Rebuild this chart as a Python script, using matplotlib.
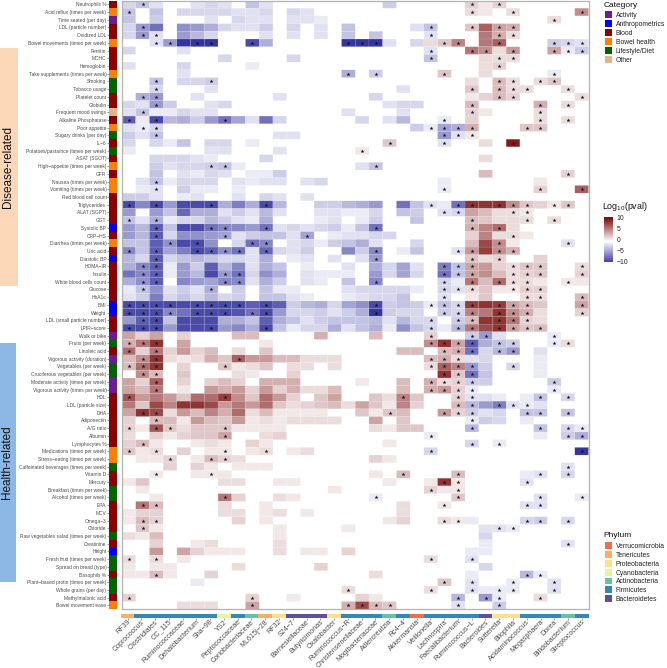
import numpy as np
import matplotlib
matplotlib.use("Agg")
import matplotlib.pyplot as plt
from matplotlib.colors import LinearSegmentedColormap, ListedColormap, Normalize
from matplotlib.transforms import ScaledTranslation

plt.rcParams['font.family'] = ['Liberation Sans', 'DejaVu Sans']
plt.rcParams['mathtext.fontset'] = 'custom'
plt.rcParams['mathtext.rm'] = 'Liberation Sans'

#################################################

taxa = ["RF39", "Coprococcus", "Clostridiales", "CC_115", "Ruminococcaceae", "Dehalobacterium", "Sha\u221298", "YS2",
        "Peptococcaceae", "Coriobacteriaceae", "ML615j\u221228", "RF32", "S24\u22127", "Barnesiellaceae", "Butyricimonas",
        "Oxalobacter", "Ruminococcus\u2212R", "Christensenellaceae", "Mogibacteriaceae", "Adlercreutzia", "Rc4\u22124",
        "Akkermansia", "Veillonella", "Lachnospira", "Faecalibacterium", "Ruminococcus\u2212L", "Bacteroides", "Sutterella",
        "Bilophila", "Acidaminococcus", "Megasphaera", "Dorea", "Bifidobacterium", "Streptococcus"]

phylum_names = ["Verrucomicrobia", "Tenericutes", "Proteobacteria", "Cyanobacteria", "Actinobacteria", "Firmicutes", "Bacteroidetes"]
phylum_colors = ["#f46d43", "#fdae61", "#fee08b", "#e6f598", "#66c2a5", "#3288bd", "#5e4fa2"]
taxa_phylum = [1, 5, 5, 5, 5, 5, 5, 3, 5, 4, 1, 2, 6, 6, 6, 2, 5, 5, 5, 4, 5, 0, 5, 5, 5, 5, 6, 2, 2, 5, 5, 5, 4, 5]

category_names = ["Activity", "Anthropometrics", "Blood", "Bowel health", "Lifestyle/Diet", "Other"]
category_colors = ["#6a1b9a", "#0000ff", "#8b0000", "#ff7f00", "#006400", "#deb887"]

measures = ["Neutrophils %", "Acid reflux (times per week)", "Time seated (per day)", "LDL (particle number)", "Oxidized LDL",
            "Bowel movements (times per week)", "Ferritin", "MCHC", "Hemoglobin", "Take supplements (times per week)",
            "Smoking", "Tobacco usage", "Platelet count", "Globulin", "Frequent mood swings", "Alkaline Phosphatase",
            "Poor appetite", "Sugary drinks (per day)", "IL\u22126", "Potatoes/pasta/rice (times per week)", "ASAT (SGOT)",
            "High\u2212appetite (times per week)", "GFR", "Nausea (times per week)", "Vomiting (times per week)",
            "Red blood cell count", "Triglycerides", "ALAT (SGPT)", "GGT", "Systolic BP", "CRP\u2212HS",
            "Diarrhea (times per week)", "Uric acid", "Diastolic BP", "HOMA\u2212IR", "Insulin", "White blood cells count",
            "Glucose", "HbA1c", "BMI", "Weight", "LDL (small particle number)", "LPIR\u2212score", "Walk or bike",
            "Fruits (per week)", "Linoleic acid", "Vigorous activity (duration)", "Vegetables (per week)",
            "Cruciferous vegetables (per week)", "Moderate activity (times per week)", "Vigorous activity (times per week)",
            "HDL", "LDL (particle size)", "DHA", "Adiponectin", "A/G ratio", "Albumin", "Lymphocytes %",
            "Medications (times per week)", "Stress\u2212eating (times per week)", "Caffeinated beverages (times per week)",
            "Vitamin D", "Mercury", "Breakfast (times per week)", "Alcohol (times per week)", "EPA", "MCV", "Omega\u22123",
            "Chloride", "Raw vegetables salad (times per week)", "Creatinine", "Height", "Fresh fruit (times per week)",
            "Spread on bread (type)", "Basophils %", "Plant\u2212based protin (times per week)", "Whole grains (per day)",
            "Methylmalonic acid", "Bowel movement ease"]

measure_category = [2, 3, 0, 2, 2, 3, 2, 2, 2, 3, 4, 4, 2, 2, 5, 2, 3, 4, 2, 4, 2, 3, 2, 3, 3, 2, 2, 2, 2, 1, 2, 3, 2, 1,
                    2, 2, 2, 2, 2, 1, 1, 2, 2, 0, 4, 2, 0, 4, 4, 0, 0, 2, 2, 2, 2, 2, 2, 2, 3, 3, 4, 2, 2, 4, 4, 2, 2, 2,
                    2, 4, 2, 1, 4, 4, 2, 4, 4, 2, 3]

# one dict per row, taxon index -> log10(pval)
log_pvals = [
    {0:-2, 1:-3, 2:-1.5, 5:-1.5, 6:-2, 7:-1.5, 9:-3, 10:-1.5, 19:-2.5, 25:2, 26:1, 27:2},
    {0:-3, 2:-3, 4:-2, 5:-2, 6:-2, 7:-2, 8:-1.5, 9:-1.5, 10:-2, 12:-2, 13:-1.5, 25:1.5, 26:1, 28:1.5, 33:5},
    {0:-3, 2:-2.5, 6:-1.5, 8:-2, 9:-1.5, 10:-1.5, 12:-1.5, 13:-1.5, 14:-1, 31:1.5},
    {0:-2, 1:-5, 2:-7, 4:-5.5, 5:-5, 6:-4, 7:-2, 8:-1.5, 9:-1.5, 10:-2.5, 12:-2, 14:-1.5, 16:-3, 21:-1.5, 22:-3, 25:2.5, 26:7, 27:4, 28:3.5},
    {0:-2, 1:-5, 2:-1.5, 4:-5, 5:-3.5, 6:-2, 10:-1.5, 12:-1.5, 14:-1.5, 16:-3, 18:-3, 22:-1.5, 26:6, 27:3.5, 28:1.5},
    {2:-1.5, 3:-5, 4:-10, 5:-10, 6:-10, 9:-9, 10:-4, 16:-10, 17:-10, 18:-10, 19:-1.5, 21:-2, 22:1.5, 23:2.5, 24:5.5, 26:6, 27:7, 31:-2.5, 32:-2, 33:-1.5},
    {0:-2, 4:-1.5, 22:-1.5, 25:6, 26:5, 27:1.5, 28:4.5, 31:4, 32:-1, 33:-2.5},
    {7:-2, 12:-2, 22:-3, 26:1.5, 27:1.5, 28:1.5},
    {0:-1.5, 4:-2, 9:-1, 26:1.5, 27:2},
    {4:-1.5, 16:-4, 18:-2.5, 23:2.5, 26:1.5, 31:-1},
    {2:-3, 4:-2, 5:-2, 6:-2.5, 25:1.5, 27:3, 28:1.5, 30:1.5, 31:2.5},
    {2:-2, 6:-1.5, 20:-1.5, 25:2.5, 27:3, 28:1.5, 29:1.5, 32:1.5},
    {1:-4, 2:-5, 5:-1.5, 11:-1.5, 18:-2, 25:1, 26:2, 27:3, 28:2, 33:1.5},
    {0:-2, 1:-1.5, 2:-5, 3:-2.5, 6:-1.5, 7:-2, 19:-1.5, 20:-2, 21:-2, 25:3, 30:3.5, 32:1.5},
    {0:-1.5, 1:-3, 2:-1, 3:-1, 4:-2, 5:-1.5, 6:-1.5, 16:-1.5, 20:-1.5, 25:2, 26:1, 30:1.5},
    {0:-8, 1:-1, 2:-9, 3:-3.5, 4:-4, 5:-2.5, 6:-5, 7:-7, 8:-4.5, 9:-1.5, 10:-7, 11:-2, 17:-2, 19:-1.5, 20:-3.5, 23:-1, 25:2, 30:1.5, 32:1.5},
    {0:-1.5, 1:-1, 2:-2, 21:-2.5, 22:-1, 23:-4.5, 24:-4, 25:3.5, 29:2.5, 30:2.5},
    {0:-2.5, 1:-1.5, 2:-3, 11:-1.5, 12:-1.5, 23:-5, 24:-1.5, 25:1},
    {0:-2, 2:-2, 3:-1, 4:-3, 6:-2, 7:-2, 9:-1, 19:2.5, 23:-1.5, 26:1.5, 28:10},
    {0:-1, 6:-1.5, 7:-1.5, 11:-1.5, 17:1},
    {2:-2, 3:-2, 4:-2, 5:-1.5, 6:-1, 10:-2, 26:1.5},
    {2:-2.5, 3:-1.5, 4:-2, 5:-2, 6:-2.5, 7:-3, 8:-1, 17:-1.5, 18:-3},
    {2:-3, 4:-1.5, 5:-1, 6:-2, 7:-1.5, 9:-1, 10:-1, 11:-2.5, 26:3, 32:2},
    {1:-1.5, 2:-3, 3:-1, 4:-2, 5:-2, 6:-2, 8:-1.5, 9:-1, 10:-1.5, 11:-1.5, 13:-1.5, 14:-2, 23:-1, 30:1},
    {1:-1, 2:-1.5, 4:-2.5, 5:-1, 6:-1, 8:-1, 23:-1, 30:2, 33:7},
    {0:-2.5, 1:-2.5, 2:-1.5, 4:-1, 5:-1.5, 8:-1.5, 10:-2, 11:-1.5, 13:-1.5},
    {0:-9, 1:-6, 2:-9, 3:-5, 4:-9, 5:-9, 6:-9, 7:-4, 8:-6.5, 9:-4, 10:-9, 11:-3.5, 14:-2.5, 15:-2.5, 16:-3.5, 17:-4, 18:-5, 20:-7, 21:-3, 22:-1.5, 23:-1, 24:-7, 25:9, 26:9, 27:9, 28:5, 29:2.5, 30:2, 31:1, 32:2.5},
    {0:-5, 2:-5, 3:-3, 4:-7.5, 5:-4, 6:-4, 7:-1.5, 8:-2.5, 9:-1.5, 10:-3.5, 11:-1.5, 14:-1.5, 15:-1.5, 16:-1, 17:-1, 18:-2, 20:-3, 21:-2.5, 23:-1.5, 24:-2, 25:4, 26:3, 27:1.5, 28:1.5, 29:1},
    {0:-3, 1:-1.5, 2:-4, 3:-1, 4:-2, 5:-2, 6:-3.5, 7:-2.5, 8:-1.5, 9:-1, 10:-4, 14:-1, 15:-1.5, 17:-1, 18:-2.5, 21:-3, 25:3, 26:2.5, 27:1.5, 28:1.5, 29:1.5, 31:1.5},
    {0:-5, 1:-3.5, 2:-8, 3:-3, 4:-9, 5:-9, 6:-7, 7:-6, 8:-6, 9:-5, 10:-7, 11:-1.5, 12:-2, 13:-1.5, 14:-2, 15:-2.5, 16:-1, 17:-3, 18:-7, 25:3.5, 26:5.5, 27:6.5, 28:1.5},
    {0:-5, 1:-3.5, 2:-8, 3:-2, 4:-5.5, 5:-5.5, 6:-5, 7:-4.5, 8:-1.5, 9:-2.5, 10:-3, 11:-3, 12:-1.5, 13:-4.5, 15:-1, 16:-1.5, 17:-1.5, 18:-2, 19:-2, 25:2, 26:5.5, 27:1.5, 28:1.5, 29:1},
    {0:-3, 1:-3, 2:-8, 3:-5.5, 4:-9, 5:-9, 6:-5.5, 8:-2, 9:-7, 10:-6, 12:-1.5, 13:-2, 14:-1, 15:-2.5, 16:-3, 17:-4, 18:-1.5, 21:-2, 25:3, 26:8, 27:5, 28:1, 32:-1.5},
    {0:-6, 1:-3, 2:-8, 3:-4.5, 4:-6.5, 5:-9, 6:-8, 7:-5.5, 8:-7, 9:-1.5, 10:-7.5, 11:-2, 12:-1.5, 13:-2.5, 16:-6, 17:-2.5, 18:-6, 20:-1, 21:-3, 24:-1.5, 25:4.5, 26:8.5, 27:5, 28:3.5},
    {0:-3.5, 1:-2, 2:-8, 3:-2, 4:-3, 5:-3.5, 6:-3, 7:-2, 8:-2, 9:-1.5, 10:-4, 12:-1, 13:-1.5, 15:-1.5, 17:-1.5, 18:-5, 25:2.5, 26:1.5, 27:2, 30:2},
    {0:-4, 1:-6, 2:-8, 3:-1, 4:-5, 5:-2.5, 6:-8, 7:-3.5, 8:-6, 9:-1.5, 10:-4, 11:-3, 13:-1, 16:-1.5, 18:-4, 19:-2, 20:-4.5, 21:-1.5, 23:-6.5, 24:-3, 25:4, 26:4.5, 27:2, 28:1.5, 29:2.5, 30:2.5, 33:1.5},
    {0:-7, 1:-6, 2:-8, 3:-1, 4:-5, 5:-3.5, 6:-9, 7:-5, 8:-7, 9:-2, 10:-5.5, 11:-4, 13:-1.5, 14:-1, 15:-1, 16:-1, 18:-5, 19:-2, 20:-4.5, 21:-2, 23:-7, 24:-3, 25:4, 26:5, 27:3, 28:1.5, 29:2, 30:2.5, 33:2},
    {0:-4, 1:-5.5, 2:-8, 4:-6, 5:-5, 6:-4.5, 7:-6, 8:-6, 9:-1.5, 10:-4, 11:-2.5, 13:-1.5, 14:-1, 16:-3, 18:-6, 23:-2, 24:-1, 25:6, 26:3, 27:6.5, 28:1.5, 29:1.5, 30:1, 32:1, 33:1},
    {0:-1, 1:-3, 2:-5.5, 3:-1.5, 4:-2.5, 5:-1.5, 6:-4, 8:-2.5, 10:-3, 11:-1, 12:-1, 16:-1.5, 17:-2, 18:-2, 19:-2, 20:-2, 21:-1, 23:-2, 24:-1.5, 25:1.5, 26:2.5, 27:1, 28:1, 29:2, 30:2},
    {0:-1.5, 1:-2.5, 2:-6.5, 3:-2, 4:-3, 5:-2, 6:-3.5, 7:-2, 8:-2.5, 10:-3, 11:-3, 12:-1.5, 13:-1, 16:-1, 17:-1.5, 18:-2, 19:-2, 20:-3, 23:-1.5, 25:1, 26:2.5, 29:1.5, 30:1.5, 33:3},
    {0:-9, 1:-9, 2:-9, 3:-9, 4:-9, 5:-9, 6:-9, 7:-9, 8:-9, 9:-8, 10:-9, 11:-8, 12:-2.5, 13:-3.5, 14:-4, 15:-2, 16:-4.5, 17:-5.5, 18:-9, 19:-2.5, 20:-3, 21:-2.5, 22:-1, 23:-3, 24:-2, 25:8.5, 26:9, 27:8.5, 28:4, 29:3, 30:2.5, 33:4},
    {0:-9, 1:-9, 2:-9, 3:-6, 4:-7, 5:-9, 6:-9, 7:-9, 8:-8.5, 9:-7, 10:-9, 11:-5, 12:-2, 13:-2, 14:-2.5, 15:-1.5, 16:-2.5, 17:-4, 18:-10, 19:-2.5, 20:-2, 21:-2, 23:-2.5, 24:-2, 25:5.5, 26:6, 27:9, 28:5, 29:3.5, 30:1.5, 33:2},
    {0:-5, 1:-8, 2:-9, 3:-3, 4:-9, 5:-9, 6:-9, 7:-4, 8:-4, 9:-3, 10:-8, 11:-4, 12:-3, 13:-1.5, 14:-2.5, 15:-3, 16:-3, 17:-3, 18:-3.5, 19:-1.5, 20:-3.5, 21:-2, 22:-2, 24:-2.5, 25:3, 26:9, 27:9, 28:6, 29:2, 30:1.5},
    {0:-9, 1:-9, 2:-9, 3:-5, 4:-9, 5:-9, 6:-9, 7:-5, 8:-6, 9:-4, 10:-9, 11:-3, 12:-1, 13:-2, 14:-2, 15:-4, 16:-1.5, 17:-3, 18:-4, 19:-1, 20:-5.5, 21:-3, 22:-2, 23:-1, 24:-3.5, 25:6, 26:8, 27:9, 28:4, 29:2.5, 30:3},
    {0:4, 1:2, 2:4, 4:2, 8:3, 9:3, 14:3.5, 18:3, 22:2, 25:-2.5, 26:-5, 27:-1.5, 31:-1},
    {0:3.5, 1:6, 2:9, 4:4, 10:1, 22:5, 23:9, 24:4, 25:-8, 26:-4, 27:-3, 28:-2.5, 31:-1, 32:1.5},
    {0:6.5, 1:2, 2:6, 3:2, 4:4.5, 5:2, 6:3, 8:1.5, 10:2.5, 20:3, 21:3, 23:3, 24:3.5, 25:-7, 26:-2, 27:-3.5, 28:-5, 30:-1.5},
    {0:3, 1:5, 2:9, 3:1.5, 4:1, 5:1.5, 6:3.5, 7:2.5, 8:7, 9:4.5, 10:4.5, 11:3, 12:3, 13:1.5, 14:1.5, 15:1.5, 22:3, 23:3.5, 24:1.5, 25:-1.5, 26:-2, 30:-1},
    {0:3, 1:6.5, 2:9, 4:2, 7:2.5, 8:1, 9:1.5, 10:2.5, 12:1.5, 13:1.5, 15:1.5, 22:1.5, 23:7, 24:5.5, 25:-5, 26:-2.5, 28:-2, 30:-1},
    {1:5, 2:3, 4:2.5, 8:1.5, 9:1, 12:2, 23:9, 24:2.5, 25:-7, 26:-3, 30:-1},
    {0:4, 1:2, 2:7, 4:2, 6:2, 7:3, 8:2, 10:3.5, 11:3.5, 12:3.5, 17:1, 20:3, 22:3.5, 23:1.5, 24:2, 25:-2.5, 26:-2.5, 31:-2.5},
    {0:4, 1:3, 2:6, 4:1, 6:4.5, 7:3.5, 8:4.5, 9:2, 10:4.5, 11:2, 12:3.5, 13:1.5, 14:1.5, 15:3, 20:3, 22:3.5, 23:4.5, 24:2, 25:-1, 31:-1},
    {0:7.5, 1:4.5, 2:6, 3:4.5, 4:2.5, 5:6.5, 6:6.5, 7:8.5, 8:5, 9:2.5, 10:6.5, 11:4.5, 12:2, 14:2.5, 15:4, 18:2.5, 19:1.5, 20:5.5, 21:2.5, 24:2, 25:-1.5, 26:-1.5, 27:-1, 29:-1, 30:-3, 32:-2},
    {0:6, 1:2.5, 2:8, 3:5.5, 4:9, 5:9, 6:8, 7:4.5, 8:6, 9:4.5, 10:6.5, 11:2.5, 12:1.5, 13:2, 14:2.5, 15:3, 16:1.5, 17:4, 18:2.5, 19:1, 20:5.5, 21:2, 24:3, 25:-3.5, 26:-5, 27:-6.5, 28:-1.5, 29:-1, 30:-1.5},
    {0:4, 1:9, 2:8, 3:1.5, 4:4.5, 5:3, 6:5.5, 7:3.5, 8:6.5, 9:1.5, 10:3, 11:1, 12:1, 13:1, 14:1, 17:2.5, 18:1, 19:2.5, 20:3, 23:4.5, 24:2, 25:-2.5, 26:-1.5, 27:-2, 29:-3, 30:-3, 32:-3},
    {0:2, 2:3, 3:3, 4:1, 5:4.5, 6:3, 7:2.5, 8:4.5, 9:1, 10:1.5, 11:1, 12:1.5, 13:1.5, 14:1.5, 15:1.5, 18:4, 20:2.5, 25:-1, 26:-2.5, 27:-2, 29:-1},
    {0:2, 1:1, 2:7.5, 3:2.5, 4:1.5, 5:2.5, 6:2.5, 7:2.5, 8:1, 9:1, 10:1, 11:1, 18:1.5, 19:1, 20:2.5, 21:2.5, 25:-3.5, 30:-3, 32:-2, 33:-1},
    {0:1.5, 2:2, 3:1, 4:2, 5:2.5, 6:2.5, 7:4, 10:1.5, 11:2, 22:-1, 30:-1, 32:-2.5, 33:-4},
    {0:2, 1:3, 2:1, 5:1, 6:1.5, 7:1, 9:2, 10:1, 19:1, 25:-2, 27:-1},
    {0:2.5, 1:1, 2:1.5, 4:2, 6:1, 7:1, 9:1, 10:1.5, 12:1, 13:1.5, 22:-2, 33:-10},
    {1:1, 2:1, 3:2, 5:1, 6:3, 7:2, 8:1.5, 18:2, 19:1},
    {3:2, 5:2, 6:1, 8:1, 9:1, 10:1, 32:-1.5},
    {2:1, 5:1, 6:1, 7:1, 18:1, 20:3, 24:3, 29:-1, 30:-1.5, 32:-2},
    {0:1, 1:2.5, 7:1.5, 8:1.5, 11:1, 12:1, 19:1, 22:1, 23:9, 24:1, 29:-1.5},
    {1:1, 15:1, 22:2, 23:1, 24:1},
    {2:1, 7:6, 8:2, 11:1.5, 12:1, 18:-1, 24:2.5, 30:-1.5, 33:-1},
    {1:6, 2:3, 7:1.5, 10:1, 20:1.5, 23:1, 29:-1.5, 30:-1.5},
    {0:1, 1:2, 2:2, 7:1.5, 8:1.5, 10:1, 11:1.5, 13:1, 20:1.5},
    {0:1, 1:3, 2:2, 8:2, 10:1, 19:1, 20:2, 23:1.5, 24:1, 25:-1, 29:-2, 30:-2.5, 32:-2},
    {1:2.5, 2:1, 11:1, 16:1, 26:-1.5, 27:-1.5, 28:-1},
    {0:1.5, 1:1, 2:3, 11:1, 26:-2},
    {2:2, 5:1, 6:1.5, 11:1.5, 26:-1, 32:-1.5},
    {2:4.5, 4:4, 5:2, 6:1, 7:1, 8:1, 11:1.5, 13:1, 14:1, 16:2, 25:-1, 26:-1},
    {0:1.5, 2:1.5, 4:1, 22:1.5, 25:-1.5},
    {0:1, 2:1, 3:1, 8:1.5, 14:2, 26:-2},
    {0:1, 1:1, 2:3, 3:1, 6:2, 18:1.5, 25:-1, 29:-3.5, 30:-1},
    {5:-1, 23:2.5, 25:-1.5, 28:-1, 31:-1.5},
    {16:1.5, 22:1.5, 25:-1.5, 26:-1, 27:-1, 28:-1, 31:-1.5},
    {0:2, 9:2, 12:1, 17:2, 18:1, 24:-3.5, 26:-5, 27:-1, 30:1.5},
    {4:1.5, 5:1.5, 6:1.5, 9:4, 16:3.5, 17:8, 18:3, 19:2.5, 24:-1.5, 27:-2.5},
]

star_cols = [
    [1, 25, 27], [0, 25, 28, 33], [31], [1, 22, 25, 27, 28], [1, 2, 22, 27, 28],
    [2, 3, 5, 6, 9, 16, 17, 18, 23, 24, 27, 31, 32, 33], [22, 25, 26, 28, 31, 32, 33], [22, 27, 28], [27],
    [16, 18, 23, 31], [2, 6, 27, 28, 30, 31], [2, 25, 27, 28, 29, 32], [1, 2, 27, 28, 33], [2, 25, 30, 32],
    [1, 25, 30], [0, 2, 7, 23, 30, 32], [1, 2, 22, 23, 24, 25, 29, 30], [2, 23, 24, 25], [19, 23, 28], [17], [],
    [6, 7, 18], [32], [2], [2, 23, 30, 33], [], [0, 2, 6, 10, 22, 24, 25, 27, 28, 29, 31, 32], [23, 24, 28, 29],
    [0, 2, 25, 29, 31], [2, 6, 7, 10, 18, 25, 27], [2, 7, 13, 28], [3, 5, 9, 10, 27, 32],
    [0, 2, 5, 6, 7, 8, 10, 18, 24, 25, 27, 28], [2, 18, 25, 27], [1, 2, 23, 24, 25, 28, 29, 30, 33],
    [1, 2, 7, 8, 23, 24, 25, 28, 29, 30, 33], [1, 2, 7, 8, 18, 23, 25, 27, 28, 29, 32], [1, 6, 23, 24, 25, 28, 29, 30],
    [23, 29, 30, 33], [0, 1, 2, 3, 5, 6, 7, 8, 10, 18, 22, 23, 24, 25, 27, 28, 29, 33],
    [0, 1, 2, 3, 5, 6, 7, 9, 10, 18, 23, 24, 25, 27, 28, 29, 33], [1, 2, 22, 24, 25, 27, 28, 29],
    [0, 1, 2, 6, 10, 22, 24, 25, 27, 28, 29, 30], [22, 25, 26, 31], [0, 1, 2, 22, 23, 24, 25, 27, 28, 31, 32],
    [0, 2, 23, 24, 25, 27, 28], [1, 2, 8, 22, 23, 24], [0, 1, 2, 7, 22, 23, 24, 25, 28], [1, 2, 23, 24, 25],
    [2, 22, 23, 24, 25, 31], [2, 22, 23, 24, 25, 31], [0, 7, 20, 24, 25, 30, 32], [24, 25, 27, 28, 29],
    [1, 2, 19, 23, 24, 25, 29, 30, 32], [2, 25], [0, 2, 3, 7, 25, 30, 32, 33], [7, 22, 32, 33], [1, 25, 27],
    [0, 2, 7, 10, 22, 33], [3, 6, 7], [32], [2, 6, 20, 24, 30, 32], [23, 24, 29], [22, 24], [7, 18, 24, 30, 33],
    [1, 2, 23, 29, 30], [], [1, 2, 23, 24, 29, 30, 32], [1, 27, 28], [], [32], [], [0, 2, 22, 25], [],
    [2, 29, 30], [23, 25, 28, 31], [16, 22, 25, 27, 28, 31], [0, 9, 24, 26, 27, 30], [9, 16, 17, 18, 19, 24, 27],
]

colorbar_ticks = [-10, -5, 0, 5, 10]

#################################################

W, H = 667, 668
fig = plt.figure(figsize=(W / 100, H / 100), dpi=100)
text_grey = '#4d4d4d'


def px_axes(x0, y0, x1, y1):
  return fig.add_axes([x0 / W, 1 - y1 / H, (x1 - x0) / W, (y1 - y0) / H])


n_rows = len(measures)
n_cols = len(taxa)
matrix = np.full((n_rows, n_cols), np.nan)
for i, row in enumerate(log_pvals):
  for j, val in row.items():
    matrix[i, j] = val

cmap = LinearSegmentedColormap.from_list('pval', ['#2e2e9c', '#ffffff', '#7f1414'])
norm = Normalize(-10.4, 10.4)

# main heatmap, no snapping so the cells keep their real widths
ax = px_axes(122, 0.5, 588.5, 609.2)
mesh = ax.pcolormesh(np.arange(n_cols + 1), np.arange(n_rows + 1), np.ma.masked_invalid(matrix), cmap=cmap, norm=norm,
                     edgecolors=(1, 1, 1, 0.35), linewidth=0.2, antialiased=True, snap=False)
ax.set_xlim(0, n_cols)
ax.set_ylim(n_rows, 0)
ax.set_xticks([])
ax.set_yticks([])
for s in ax.spines.values():
  s.set_color('#b3b3b3')
  s.set_linewidth(0.9)

star_x = [j + 0.5 for i, cols in enumerate(star_cols) for j in cols]
star_y = [i + 0.5 for i, cols in enumerate(star_cols) for j in cols]
ax.scatter(star_x, star_y, marker='*', s=9, c='#111122', linewidths=0)

# category strip with the row labels
ax_cat = px_axes(109.3, 0.5, 116.7, 609.2)
ax_cat.pcolormesh(np.array(measure_category).reshape(-1, 1), cmap=ListedColormap(category_colors), vmin=-0.5, vmax=5.5)
ax_cat.set_ylim(n_rows, 0)
ax_cat.set_xticks([])
ax_cat.set_yticks(np.arange(n_rows) + 0.5)
ax_cat.set_yticklabels(measures, fontsize=3.5, color=text_grey)
ax_cat.tick_params(axis='y', length=1.5, width=0.4, pad=0.6, color='#555555')
for s in ax_cat.spines.values():
  s.set_visible(False)

# phylum strip with the taxon labels
ax_phy = px_axes(120.7, 614, 588.7, 617.8)
ax_phy.pcolormesh(np.array(taxa_phylum).reshape(1, -1), cmap=ListedColormap(phylum_colors), vmin=-0.5, vmax=6.5)
ax_phy.set_yticks([])
ax_phy.set_xticks(np.arange(n_cols) + 0.5)
ax_phy.set_xticklabels(taxa, fontsize=5.1, color=text_grey, rotation=45, ha='right', va='center', rotation_mode='anchor')
ax_phy.tick_params(axis='x', length=1.5, width=0.4, pad=0.8, color='#555555')
nudge = ScaledTranslation(2 / 100, 0, fig.dpi_scale_trans)
for lab in ax_phy.get_xticklabels():
  lab.set_transform(lab.get_transform() + nudge)
for s in ax_phy.spines.values():
  s.set_visible(False)

# side bands
for rect, color, label, lsize in [((0, 47.7, 18, 285.7), '#fdd8b8', 'Disease-related', 8.5),
                                  ((0, 343.3, 16.3, 581.7), '#8db8e6', 'Health-related', 8.5)]:
  band = px_axes(*rect)
  band.set_facecolor(color)
  band.set_xticks([])
  band.set_yticks([])
  for s in band.spines.values():
    s.set_visible(False)
  band.text(0.44, 0.5, label, rotation=90, ha='center', va='center', transform=band.transAxes, fontsize=lsize, color='#111111')


# legends
def strip_legend(x0, y0, names, colors, title):
  n = len(names)
  lg = px_axes(x0, y0, x0 + 9, y0 + 8.95 * n)
  lg.pcolormesh(np.arange(n).reshape(-1, 1), cmap=ListedColormap(colors), vmin=-0.5, vmax=n - 0.5, edgecolors='white', linewidth=0.3)
  lg.set_ylim(n, 0)
  lg.set_xticks([])
  lg.yaxis.tick_right()
  lg.set_yticks(np.arange(n) + 0.5)
  lg.set_yticklabels(names, fontsize=4.9, color='#222222')
  lg.tick_params(axis='y', length=0, pad=2.4)
  for s in lg.spines.values():
    s.set_visible(False)
  fig.text(x0 / W, 1 - (y0 - 3.6) / H, title, fontsize=6.0, color='#111111', ha='left', va='baseline')


strip_legend(603.5, 10.2, category_names, category_colors, 'Category')
strip_legend(603.5, 540.7, phylum_names, phylum_colors, 'Phylum')

# colour bar
cax = px_axes(604, 216.7, 612.7, 262)
cb = fig.colorbar(mesh, cax=cax, ticks=colorbar_ticks)
cb.outline.set_visible(False)
cb.solids.set_edgecolor('face')
cb.ax.set_yticklabels(['\u221210', '\u22125', '0', '5', '10'], fontsize=4.9, color='#222222')
cb.ax.tick_params(length=0, pad=2.6)
fig.text(601.7 / W, 1 - 213.5 / H, r'Log$_{\mathrm{10}}$(pval)', fontsize=6.4, color='#111111', ha='left', va='bottom')

plt.savefig('out.png', dpi=100)
